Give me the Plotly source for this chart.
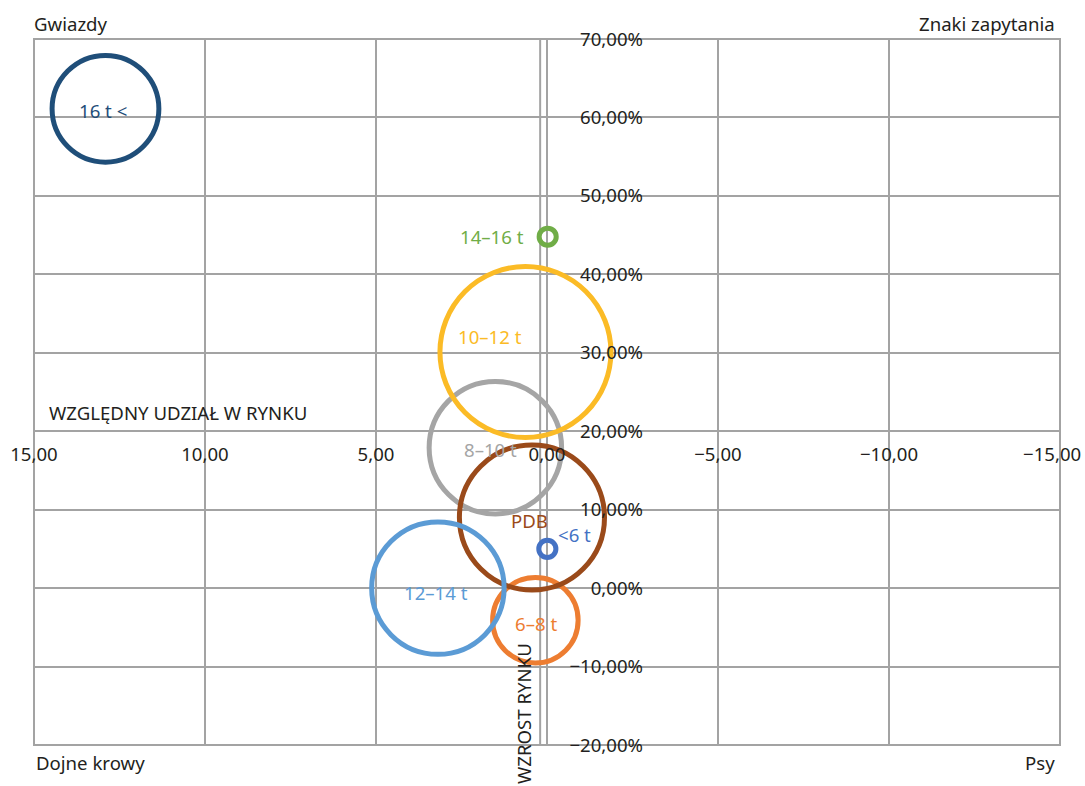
import plotly.graph_objects as go

# ---- data -------------------------------------------------------------
kategorie = ["8–10 t", "10–12 t", "6–8 t", "PDB", "12–14 t", "16 t <", "14–16 t", "<6 t"]
udzial_w_rynku = [1.51, 0.63, 0.34, 0.44, 3.19, 12.91, -0.02, -0.01]   # x: względny udział w rynku
wzrost_rynku = [17.9, 30.1, -4.1, 9.0, 0.0, 61.1, 44.8, 5.0]            # y: wzrost rynku, %
wielkosc = [60, 100, 25, 72, 60, 39, 1, 1]                               # bubble size (area)

x_ticks = [15, 10, 5, 0, -5, -10, -15]
x_tick_labels = ["15,00", "10,00", "5,00", "0,00", "−5,00", "−10,00", "−15,00"]
y_ticks = [70, 60, 50, 40, 30, 20, 10, 0, -10, -20]
y_tick_labels = ["70,00%", "60,00%", "50,00%", "40,00%", "30,00%", "20,00%",
                 "10,00%", "0,00%", "−10,00%", "−20,00%"]

# ---- styles -------------------------------------------------------------
kolory = {
    "16 t <": "#1f4e79", "14–16 t": "#70ad47", "10–12 t": "#fbbb26",
    "8–10 t": "#a5a5a5", "PDB": "#9a4a1a", "<6 t": "#4472c4",
    "12–14 t": "#5b9bd5", "6–8 t": "#ed7d31",
}
# label offsets in screen px (dx right, dy down) relative to bubble centre
label_offsets = {
    "16 t <": (-2, 2, "center"), "14–16 t": (-22, 0, "right"), "10–12 t": (-35, -15, "center"),
    "8–10 t": (-5, 2, "center"), "PDB": (-2, 3, "center"), "<6 t": (27, -14, "center"),
    "12–14 t": (-2, 4, "center"), "6–8 t": (1, 3, "center"),
}

W, H = 1085, 786
ML, MR, MT, MB = 34, 25, 39, 41
PW, PH = W - ML - MR, H - MT - MB
FONT = "Noto Sans"
FS = 18.6
TXT = "#231f20"
GRID = "#a3a3a3"
MAX_DIAM = 171
AXIS_LINE_X = 0.2  # secondary vertical axis line
X_AXIS_AT = 20     # x tick labels sit on the 20% line


def px_x(p):
    return (p - ML) / PW


def px_y(p):
    return (H - MB - p) / PH


# the outermost right tick label is drawn as a right-anchored annotation
# so that it stays inside the page (as in the reference)
x_tick_text = list(x_tick_labels)
x_tick_text[-1] = ""

sizeref = 2 * max(wielkosc) / (MAX_DIAM ** 2)

fig = go.Figure()
fig.add_trace(go.Scatter(
    x=udzial_w_rynku, y=wzrost_rynku, mode="markers",
    marker=dict(
        size=wielkosc, sizemode="area", sizeref=sizeref, opacity=1,
        color="rgba(0,0,0,0)",
        line=dict(color=[kolory[k] for k in kategorie], width=5),
    ),
    hoverinfo="text", text=kategorie, showlegend=False,
))

annotations = []
for k, xv, yv in zip(kategorie, udzial_w_rynku, wzrost_rynku):
    dx, dy, anchor = label_offsets[k]
    annotations.append(dict(
        x=xv, y=yv, xref="x", yref="y", text=k, showarrow=False,
        xanchor=anchor, yanchor="middle", xshift=dx, yshift=-dy,
        font=dict(family=FONT, size=FS, color=kolory[k]),
    ))

annotations.append(dict(
    x=x_ticks[-1], y=X_AXIS_AT, xref="x", yref="y", text=x_tick_labels[-1],
    showarrow=False, xanchor="right", yanchor="middle", xshift=23, yshift=-22,
    font=dict(family=FONT, size=FS, color=TXT),
))

corner = [
    ("Gwiazdy", 32, 23, "left"),
    ("Znaki zapytania", 1057, 23, "right"),
    ("Dojne krowy", 34, 763, "left"),
    ("Psy", 1057, 763, "right"),
]
for t, xp, yp, anc in corner:
    annotations.append(dict(
        x=px_x(xp), y=px_y(yp), xref="paper", yref="paper", text=t, showarrow=False,
        xanchor=anc, yanchor="middle", font=dict(family=FONT, size=FS, color=TXT),
    ))

annotations.append(dict(
    x=px_x(47), y=px_y(412), xref="paper", yref="paper", text="WZGLĘDNY UDZIAŁ W RYNKU",
    showarrow=False, xanchor="left", yanchor="middle",
    font=dict(family=FONT, size=FS, color=TXT),
))
annotations.append(dict(
    x=px_x(523), y=px_y(714), xref="paper", yref="paper", text="WZROST RYNKU",
    showarrow=False, textangle=-90, xanchor="center", yanchor="middle",
    font=dict(family=FONT, size=FS, color=TXT),
))

# plot border (gridlines at the range ends) and the second vertical axis line
fig.add_shape(type="rect", xref="paper", yref="paper", x0=0, x1=1, y0=0, y1=1,
              line=dict(color=GRID, width=2), layer="below")
fig.add_shape(type="line", xref="x", yref="paper", x0=AXIS_LINE_X, x1=AXIS_LINE_X,
              y0=0, y1=1, line=dict(color=GRID, width=2), layer="below")

fig.update_layout(
    width=W, height=H,
    margin=dict(l=ML, r=MR, t=MT, b=MB, pad=0, autoexpand=False),
    paper_bgcolor="white", plot_bgcolor="white",
    font=dict(family=FONT, size=FS, color=TXT),
    annotations=annotations,
    xaxis=dict(
        range=[15, -15], tickvals=x_ticks, ticktext=x_tick_text,
        showgrid=True, gridcolor=GRID, gridwidth=2, zeroline=False, showline=False,
        ticks="", anchor="free", position=(X_AXIS_AT + 20) / 90,
        ticklabeloverflow="allow", ticklabelstandoff=10, automargin=False,
        tickfont=dict(family=FONT, size=FS, color=TXT),
        fixedrange=True,
    ),
    yaxis=dict(
        range=[-20, 70], tickvals=y_ticks, ticktext=y_tick_labels,
        showgrid=True, gridcolor=GRID, gridwidth=2, zeroline=False, showline=False,
        ticks="", anchor="free", side="left", position=px_x(643),
        ticklabeloverflow="allow", automargin=False,
        tickfont=dict(family=FONT, size=FS, color=TXT),
        fixedrange=True,
    ),
)

fig.write_html("out.html")
